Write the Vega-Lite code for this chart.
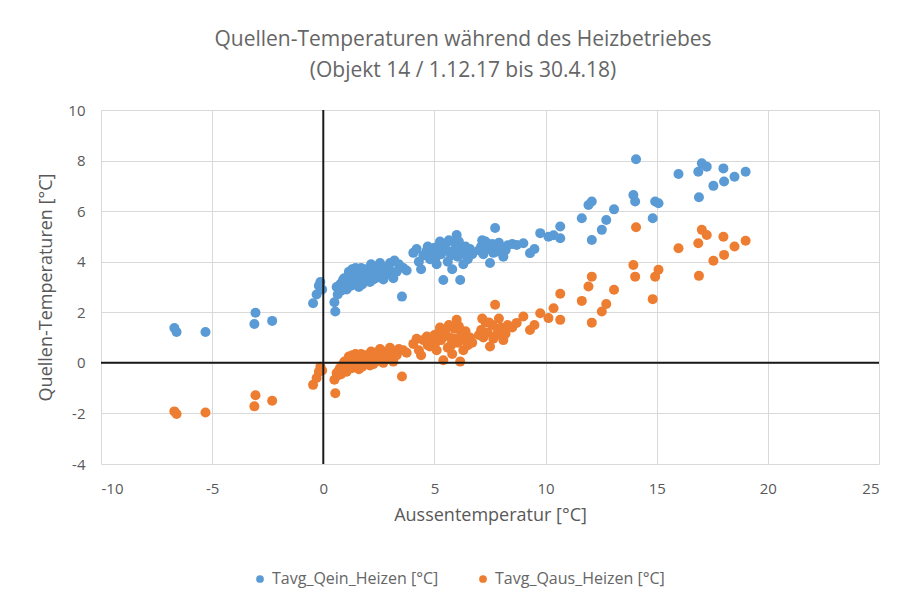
{
  "$schema": "https://vega.github.io/schema/vega-lite/v6.json",
  "width": 778,
  "height": 354,
  "autosize": {"type": "none"},
  "padding": {"left": 101, "top": 110, "right": 23, "bottom": 138},
  "background": "white",
  "title": {
    "text": ["Quellen-Temperaturen während des Heizbetriebes", "(Objekt 14 / 1.12.17 bis 30.4.18)"],
    "fontSize": 21,
    "font": "Open Sans",
    "fontWeight": "normal",
    "color": "#666666",
    "lineHeight": 31,
    "anchor": "middle",
    "dx": -27,
    "offset": 22
  },
  "datasets": {
    "pts": [
      {"T": -6.7, "Qein": 1.38, "Qaus": -1.92},
      {"T": -6.6, "Qein": 1.22, "Qaus": -2.02},
      {"T": -5.3, "Qein": 1.22, "Qaus": -1.96},
      {"T": -3.05, "Qein": 1.98, "Qaus": -1.28},
      {"T": -3.1, "Qein": 1.54, "Qaus": -1.72},
      {"T": -2.3, "Qein": 1.66, "Qaus": -1.5},
      {"T": -0.46, "Qein": 2.36, "Qaus": -0.87},
      {"T": -0.3, "Qein": 2.7, "Qaus": -0.6},
      {"T": -0.2, "Qein": 3.05, "Qaus": -0.35},
      {"T": -0.13, "Qein": 3.2, "Qaus": -0.15},
      {"T": -0.05, "Qein": 2.9, "Qaus": -0.3},
      {"T": 0.54, "Qein": 2.03, "Qaus": -1.2},
      {"T": 0.5, "Qein": 2.4, "Qaus": -0.67},
      {"T": 0.6, "Qein": 3.0, "Qaus": -0.4},
      {"T": 0.65, "Qein": 2.7, "Qaus": -0.5},
      {"T": 0.7, "Qein": 2.95, "Qaus": -0.3},
      {"T": 0.75, "Qein": 3.1, "Qaus": -0.2},
      {"T": 0.8, "Qein": 2.85, "Qaus": -0.45},
      {"T": 0.85, "Qein": 3.2, "Qaus": -0.1},
      {"T": 0.9, "Qein": 3.0, "Qaus": -0.25},
      {"T": 0.9, "Qein": 3.3, "Qaus": -0.05},
      {"T": 0.95, "Qein": 3.35, "Qaus": 0.05},
      {"T": 1.0, "Qein": 3.15, "Qaus": -0.1},
      {"T": 1.05, "Qein": 2.9, "Qaus": -0.35},
      {"T": 1.1, "Qein": 3.4, "Qaus": 0.1},
      {"T": 1.15, "Qein": 3.25, "Qaus": -0.05},
      {"T": 1.15, "Qein": 3.6, "Qaus": 0.25},
      {"T": 1.2, "Qein": 3.55, "Qaus": 0.2},
      {"T": 1.25, "Qein": 3.05, "Qaus": -0.2},
      {"T": 1.3, "Qein": 3.7, "Qaus": 0.3},
      {"T": 1.3, "Qein": 3.1, "Qaus": -0.2},
      {"T": 1.35, "Qein": 3.3, "Qaus": 0.0},
      {"T": 1.4, "Qein": 3.45, "Qaus": 0.1},
      {"T": 1.45, "Qein": 3.75, "Qaus": 0.35},
      {"T": 1.5, "Qein": 3.2, "Qaus": -0.05},
      {"T": 1.55, "Qein": 3.6, "Qaus": 0.25},
      {"T": 1.6, "Qein": 3.35, "Qaus": 0.05},
      {"T": 1.6, "Qein": 3.0, "Qaus": -0.25},
      {"T": 1.7, "Qein": 3.75, "Qaus": 0.35},
      {"T": 1.75, "Qein": 3.1, "Qaus": -0.15},
      {"T": 1.8, "Qein": 3.5, "Qaus": 0.15},
      {"T": 1.85, "Qein": 3.7, "Qaus": 0.3},
      {"T": 1.9, "Qein": 3.3, "Qaus": 0.0},
      {"T": 2.0, "Qein": 3.65, "Qaus": 0.3},
      {"T": 2.05, "Qein": 3.4, "Qaus": 0.1},
      {"T": 2.1, "Qein": 3.2, "Qaus": -0.1},
      {"T": 2.15, "Qein": 3.9, "Qaus": 0.45},
      {"T": 2.2, "Qein": 3.55, "Qaus": 0.2},
      {"T": 2.25, "Qein": 3.3, "Qaus": -0.05},
      {"T": 2.3, "Qein": 3.75, "Qaus": 0.4},
      {"T": 2.35, "Qein": 3.35, "Qaus": 0.05},
      {"T": 2.45, "Qein": 3.6, "Qaus": 0.25},
      {"T": 2.5, "Qein": 3.45, "Qaus": 0.15},
      {"T": 2.55, "Qein": 3.95, "Qaus": 0.55},
      {"T": 2.6, "Qein": 3.85, "Qaus": 0.5},
      {"T": 2.65, "Qein": 3.55, "Qaus": 0.15},
      {"T": 2.7, "Qein": 3.3, "Qaus": 0.0},
      {"T": 2.8, "Qein": 3.7, "Qaus": 0.35},
      {"T": 2.9, "Qein": 3.55, "Qaus": 0.2},
      {"T": 2.95, "Qein": 3.75, "Qaus": 0.4},
      {"T": 3.0, "Qein": 3.95, "Qaus": 0.6},
      {"T": 3.1, "Qein": 3.45, "Qaus": 0.1},
      {"T": 3.15, "Qein": 3.35, "Qaus": 0.05},
      {"T": 3.2, "Qein": 4.05, "Qaus": 0.45},
      {"T": 3.3, "Qein": 3.6, "Qaus": 0.3},
      {"T": 3.4, "Qein": 3.9, "Qaus": 0.55},
      {"T": 3.54, "Qein": 2.62, "Qaus": -0.54},
      {"T": 3.6, "Qein": 3.75, "Qaus": 0.5},
      {"T": 3.75, "Qein": 3.65, "Qaus": 0.4},
      {"T": 4.05, "Qein": 4.35, "Qaus": 0.75},
      {"T": 4.2, "Qein": 4.5, "Qaus": 0.95},
      {"T": 4.3, "Qein": 4.0, "Qaus": 0.5},
      {"T": 4.4, "Qein": 3.7, "Qaus": 0.3},
      {"T": 4.5, "Qein": 4.25, "Qaus": 0.9},
      {"T": 4.66, "Qein": 4.45, "Qaus": 1.04},
      {"T": 4.7, "Qein": 4.6, "Qaus": 0.7},
      {"T": 4.8, "Qein": 4.1, "Qaus": 0.65},
      {"T": 4.9, "Qein": 4.4, "Qaus": 1.0},
      {"T": 5.0, "Qein": 4.55, "Qaus": 1.1},
      {"T": 5.05, "Qein": 4.15, "Qaus": 0.8},
      {"T": 5.1, "Qein": 3.9, "Qaus": 0.5},
      {"T": 5.2, "Qein": 4.6, "Qaus": 1.2},
      {"T": 5.25, "Qein": 4.8, "Qaus": 1.4},
      {"T": 5.3, "Qein": 4.3, "Qaus": 0.9},
      {"T": 5.4, "Qein": 3.28, "Qaus": 0.1},
      {"T": 5.45, "Qein": 4.5, "Qaus": 1.15},
      {"T": 5.5, "Qein": 4.7, "Qaus": 1.3},
      {"T": 5.6, "Qein": 4.0, "Qaus": 0.6},
      {"T": 5.65, "Qein": 4.85, "Qaus": 1.5},
      {"T": 5.7, "Qein": 4.4, "Qaus": 1.0},
      {"T": 5.75, "Qein": 4.25, "Qaus": 0.7},
      {"T": 5.8, "Qein": 3.7, "Qaus": 0.35},
      {"T": 5.9, "Qein": 4.75, "Qaus": 1.35},
      {"T": 5.95, "Qein": 4.45, "Qaus": 0.95},
      {"T": 6.0, "Qein": 5.06, "Qaus": 1.7},
      {"T": 6.05, "Qein": 4.2, "Qaus": 0.8},
      {"T": 6.1, "Qein": 4.8, "Qaus": 1.45},
      {"T": 6.16, "Qein": 3.28, "Qaus": 0.05},
      {"T": 6.2, "Qein": 4.5, "Qaus": 1.1},
      {"T": 6.3, "Qein": 3.9, "Qaus": 0.5},
      {"T": 6.35, "Qein": 4.3, "Qaus": 0.9},
      {"T": 6.4, "Qein": 4.6, "Qaus": 1.25},
      {"T": 6.5, "Qein": 4.1, "Qaus": 0.7},
      {"T": 6.6, "Qein": 4.5, "Qaus": 1.0},
      {"T": 6.7, "Qein": 4.3, "Qaus": 0.8},
      {"T": 7.0, "Qein": 4.45, "Qaus": 1.1},
      {"T": 7.1, "Qein": 4.6, "Qaus": 1.3},
      {"T": 7.15, "Qein": 4.85, "Qaus": 1.75},
      {"T": 7.2, "Qein": 4.3, "Qaus": 1.0},
      {"T": 7.3, "Qein": 4.8, "Qaus": 1.6},
      {"T": 7.4, "Qein": 4.5, "Qaus": 1.2},
      {"T": 7.45, "Qein": 4.65, "Qaus": 1.6},
      {"T": 7.5, "Qein": 3.95, "Qaus": 0.65},
      {"T": 7.6, "Qein": 4.7, "Qaus": 1.5},
      {"T": 7.65, "Qein": 4.35, "Qaus": 0.95},
      {"T": 7.73, "Qein": 5.33, "Qaus": 2.3},
      {"T": 7.8, "Qein": 4.4, "Qaus": 1.1},
      {"T": 7.85, "Qein": 4.6, "Qaus": 1.35},
      {"T": 7.9, "Qein": 4.75, "Qaus": 1.75},
      {"T": 8.0, "Qein": 4.55, "Qaus": 1.4},
      {"T": 8.1, "Qein": 4.2, "Qaus": 0.9},
      {"T": 8.2, "Qein": 4.45, "Qaus": 1.15},
      {"T": 8.3, "Qein": 4.65, "Qaus": 1.5},
      {"T": 8.5, "Qein": 4.7, "Qaus": 1.4},
      {"T": 8.7, "Qein": 4.66, "Qaus": 1.58},
      {"T": 9.0, "Qein": 4.73, "Qaus": 1.83},
      {"T": 9.3, "Qein": 4.34, "Qaus": 1.3},
      {"T": 9.5, "Qein": 4.5, "Qaus": 1.5},
      {"T": 9.76, "Qein": 5.13, "Qaus": 1.96},
      {"T": 10.13, "Qein": 4.99, "Qaus": 1.77},
      {"T": 10.36, "Qein": 5.05, "Qaus": 2.16},
      {"T": 10.66, "Qein": 5.39, "Qaus": 2.73},
      {"T": 10.66, "Qein": 4.93, "Qaus": 1.7},
      {"T": 11.63, "Qein": 5.72, "Qaus": 2.45},
      {"T": 11.93, "Qein": 6.24, "Qaus": 3.02},
      {"T": 12.08, "Qein": 6.38, "Qaus": 3.41},
      {"T": 12.08, "Qein": 4.86, "Qaus": 1.59},
      {"T": 12.53, "Qein": 5.26, "Qaus": 2.03},
      {"T": 12.73, "Qein": 5.65, "Qaus": 2.33},
      {"T": 13.08, "Qein": 6.07, "Qaus": 2.89},
      {"T": 13.95, "Qein": 6.64, "Qaus": 3.87},
      {"T": 14.03, "Qein": 6.38, "Qaus": 3.41},
      {"T": 14.07, "Qein": 8.05, "Qaus": 5.36},
      {"T": 14.82, "Qein": 5.72, "Qaus": 2.52},
      {"T": 14.93, "Qein": 6.38, "Qaus": 3.41},
      {"T": 15.08, "Qein": 6.31, "Qaus": 3.68},
      {"T": 15.98, "Qein": 7.47, "Qaus": 4.53},
      {"T": 16.9, "Qein": 6.55, "Qaus": 3.44},
      {"T": 16.87, "Qein": 7.56, "Qaus": 4.73},
      {"T": 17.03, "Qein": 7.89, "Qaus": 5.26},
      {"T": 17.25, "Qein": 7.76, "Qaus": 5.06},
      {"T": 17.55, "Qein": 7.0, "Qaus": 4.04},
      {"T": 18.0, "Qein": 7.69, "Qaus": 4.99},
      {"T": 18.03, "Qein": 7.17, "Qaus": 4.27},
      {"T": 18.5, "Qein": 7.36, "Qaus": 4.6},
      {"T": 19.0, "Qein": 7.56, "Qaus": 4.83}
    ],
    "zero": [{"z": 0}]
  },
  "layer": [
    {
      "data": {"name": "pts"},
      "transform": [{"fold": ["Qein", "Qaus"], "as": ["series", "value"]}],
      "mark": {"type": "circle", "size": 100, "opacity": 1},
      "encoding": {
        "x": {
          "field": "T",
          "type": "quantitative",
          "scale": {"domain": [-10, 25], "nice": false, "zero": false},
          "axis": {"values": [-10, -5, 0, 5, 10, 15, 20, 25], "title": "Aussentemperatur [°C]", "labelPadding": 17, "titlePadding": 10, "labelExpr": "'' + datum.value"}
        },
        "y": {
          "field": "value",
          "type": "quantitative",
          "scale": {"domain": [-4, 10], "nice": false, "zero": false},
          "axis": {"values": [-4, -2, 0, 2, 4, 6, 8, 10], "title": "Quellen-Temperaturen [°C]", "labelPadding": 16, "titlePadding": 12, "labelExpr": "'' + datum.value"}
        },
        "color": {
          "field": "series",
          "type": "nominal",
          "scale": {"domain": ["Qein", "Qaus"], "range": ["#5B9BD5", "#ED7D31"]},
          "legend": {
            "title": null,
            "orient": "none",
            "direction": "horizontal",
            "legendX": 151,
            "legendY": 461,
            "symbolType": "circle",
            "symbolSize": 60,
            "symbolOpacity": 1,
            "labelFontSize": 16,
            "labelFont": "Open Sans",
            "labelColor": "#666666",
            "labelLimit": 0,
            "labelOffset": 4,
            "columnPadding": 36,
            "labelExpr": "datum.label == 'Qein' ? 'Tavg_Qein_Heizen [°C]' : 'Tavg_Qaus_Heizen [°C]'"
          }
        }
      }
    },
    {
      "data": {"name": "zero"},
      "mark": {"type": "rule", "color": "#1a1a1a", "strokeWidth": 2},
      "encoding": {"x": {"field": "z", "type": "quantitative"}}
    },
    {
      "data": {"name": "zero"},
      "mark": {"type": "rule", "color": "#1a1a1a", "strokeWidth": 2},
      "encoding": {"y": {"field": "z", "type": "quantitative"}}
    }
  ],
  "config": {
    "view": {"stroke": null},
    "font": "Open Sans",
    "axis": {
      "domain": false,
      "ticks": false,
      "grid": true,
      "gridColor": "#D9D9D9",
      "gridWidth": 1,
      "labelFont": "Open Sans",
      "labelFontSize": 15,
      "labelColor": "#595959",
      "titleFont": "Open Sans",
      "titleFontSize": 18,
      "titleFontWeight": "normal",
      "titleColor": "#595959"
    }
  }
}
